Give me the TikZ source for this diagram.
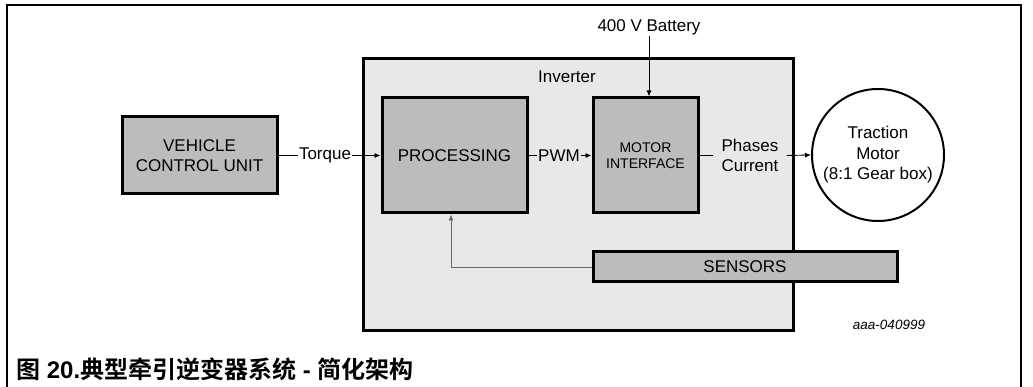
\documentclass[tikz,border=0pt]{standalone}
\usepackage{fontspec}
\setmainfont{Liberation Sans}
\newfontfamily\cjk{Noto Sans CJK SC}[BoldFont={* Bold}]
\usetikzlibrary{arrows.meta}
\definecolor{boxgray}{HTML}{BBBCBB}
\definecolor{invgray}{HTML}{E7E8E8}
\tikzset{
  x=1pt, y=-1pt,
  blk/.style={draw=black, line width=3pt, fill=boxgray, inner sep=0pt},
  lbl/.style={font=\fontsize{17}{20.5}\selectfont, inner sep=1pt, align=center},
  conn/.style={line width=0.9pt, -{Latex[length=6pt,width=5pt]}},
  plain/.style={line width=0.9pt},
}
\begin{document}
\begin{tikzpicture}
\useasboundingbox (0,0) rectangle (1033,387);
% outer frame
\draw[line width=2.2pt] (7,390) -- (7,5) -- (1021,5) -- (1021,390);
% inverter
\node[draw=black, line width=3pt, fill=invgray, minimum width=430pt, minimum height=271pt, inner sep=0pt] (inv) at (578,194.5) {};
\node[lbl, anchor=center] (invlbl) at (567,77) {Inverter};
% boxes
\node[blk, minimum width=155pt, minimum height=77pt, lbl] (vcu) at (199.5,155.5) {VEHICLE\\CONTROL UNIT};
\node[blk, minimum width=145pt, minimum height=115pt, lbl] (proc) at (454.5,155.5) {PROCESSING};
\node[blk, minimum width=105pt, minimum height=115pt, align=center, font=\fontsize{14}{16}\selectfont] (mi) at (645.5,155.5) {MOTOR\\INTERFACE};
\node[blk, minimum width=304pt, minimum height=30pt, lbl] (sens) at (745,267) {SENSORS};
\node[draw=black, line width=2pt, circle, minimum size=132pt, inner sep=0pt, lbl] (mot) at (878,155) {Traction\\Motor\\(8:1 Gear box)};
% labels
\node[lbl] (tq) at (325,155.5) {Torque};
\node[lbl] (pwm) at (559,155.5) {PWM};
\node[lbl, inner xsep=8pt] (ph) at (750,155.5) {Phases\\Current};
\node[lbl] (bat) at (649,27) {400 V Battery};
\node[font=\itshape\fontsize{13.5}{15}\selectfont] (id) at (889,325) {aaa-040999};
% connectors
\draw[plain] (vcu.east) -- (tq.west);
\draw[conn] (tq.east) -- (proc.west);
\draw[plain] (proc.east) -- (pwm.west);
\draw[conn] (pwm.east) -- (mi.west);
\draw[plain] (mi.east) -- (ph.west);
\draw[conn] (ph.east) -- (mot.west);
\draw[conn] (bat.south) ++(0,0) coordinate (bs) -- (bs |- mi.north);
\coordinate (fb) at (451,267);
\draw[line width=0.9pt, draw=black!60, -{Latex[length=6pt,width=5pt]}] (sens.west) -- (fb) -- (fb |- proc.south);
% caption
\node[anchor=west, inner sep=0pt, font=\bfseries\fontsize{24}{26}\selectfont] (cap) at (16,369) {{\cjk\bfseries 图} 20.{\cjk\bfseries 典型牵引逆变器系统} - {\cjk\bfseries 简化架构}};
\end{tikzpicture}
\end{document}
